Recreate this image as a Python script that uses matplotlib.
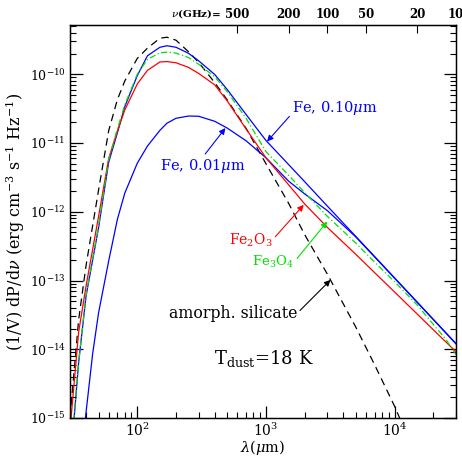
import matplotlib
matplotlib.use("Agg")
import matplotlib.pyplot as plt
from matplotlib.ticker import LogLocator, NullFormatter, FixedLocator, FixedFormatter

plt.rcParams['font.family'] = ['DejaVu Serif']
plt.rcParams['mathtext.fontset'] = 'dejavuserif'

# --- datos (lambda en micras, dP/dnu por volumen) ---
lam_sil = [30, 35, 40, 50, 60, 70, 80, 100, 120, 150, 170, 200, 250, 300, 400,
           500, 700, 1000, 1500, 2000, 3000, 5000, 7000, 10000, 12000]
sil = [1.0e-15, 2.67e-14, 1.66e-13, 2.06e-12, 1.52e-11, 4.27e-11, 8.0e-11, 1.70e-10,
       2.40e-10, 3.34e-10, 3.46e-10, 3.13e-10, 2.13e-10, 1.49e-10, 7.55e-11, 4.24e-11,
       1.64e-11, 5.0e-12, 1.33e-12, 4.65e-13, 1.24e-13, 2.09e-14, 5.93e-15, 1.48e-15, 6.7e-16]

lam_fe10 = [32, 35, 40, 50, 60, 70, 80, 100, 120, 150, 170, 200, 250, 300, 400, 500,
            700, 1000, 1500, 2000, 3000, 5000, 7000, 10000, 15000, 20000, 30000]
fe10 = [8.0e-16, 6.35e-15, 5.97e-14, 5.83e-13, 5.3e-12, 1.40e-11, 3.39e-11, 9.54e-11,
        1.86e-10, 2.47e-10, 2.60e-10, 2.47e-10, 2.02e-10, 1.57e-10, 9.93e-11, 6.0e-11,
        2.61e-11, 1.09e-11, 4.86e-12, 2.74e-12, 1.21e-12, 4.36e-13, 2.23e-13, 1.09e-13,
        4.85e-14, 2.72e-14, 1.21e-14]

lam_fe01 = [39, 45, 50, 60, 70, 80, 100, 120, 150, 170, 200, 250, 300, 400, 500, 700,
            1000, 1500, 2000, 3000, 5000, 7000, 10000, 15000, 20000, 30000]
fe01 = [8.0e-16, 8.6e-15, 3.37e-14, 1.94e-13, 7.71e-13, 1.87e-12, 5.08e-12, 9.04e-12,
        1.53e-11, 1.94e-11, 2.29e-11, 2.47e-11, 2.45e-11, 2.07e-11, 1.65e-11, 1.08e-11,
        6.1e-12, 2.79e-12, 1.82e-12, 1.04e-12, 4.3e-13, 2.2e-13, 1.08e-13, 4.8e-14,
        2.7e-14, 1.2e-14]

lam_fe2o3 = [30, 35, 40, 50, 60, 70, 80, 100, 120, 150, 170, 200, 250, 300, 400, 500,
             700, 1000, 1500, 2000, 3000, 5000, 7000, 10000, 15000, 20000, 30000]
fe2o3 = [6.7e-16, 1.76e-14, 8.34e-14, 8.51e-13, 6.0e-12, 1.48e-11, 3.03e-11, 7.22e-11,
         1.14e-10, 1.51e-10, 1.53e-10, 1.47e-10, 1.26e-10, 1.03e-10, 7.01e-11, 4.10e-11,
         1.61e-11, 6.1e-12, 2.47e-12, 1.30e-12, 5.93e-13, 2.40e-13, 1.30e-13, 6.8e-14,
         3.25e-14, 1.92e-14, 9.2e-15]

lam_fe3o4 = [32, 35, 40, 50, 60, 70, 80, 100, 120, 150, 170, 200, 250, 300, 400, 500,
             700, 1000, 1500, 2000, 3000, 5000, 7000, 10000, 15000, 20000, 25000, 30000]
fe3o4 = [9.0e-16, 6.5e-15, 6.2e-14, 6.2e-13, 5.8e-12, 1.6e-11, 3.6e-11, 1.0e-10,
         1.65e-10, 2.05e-10, 2.1e-10, 2.03e-10, 1.75e-10, 1.4e-10, 9.2e-11, 5.6e-11,
         2.3e-11, 7.5e-12, 3.4e-12, 1.9e-12, 8.6e-13, 3.5e-13, 1.85e-13, 9.6e-14,
         4.4e-14, 2.3e-14, 1.4e-14, 8.3e-15]

nu_ticks = [500, 200, 100, 50, 20, 10]   # GHz
c_um_ghz = 2.998e5                       # lambda(um) = c / nu(GHz)

fig = plt.figure(figsize=(4.62, 4.58), dpi=100)
ax = fig.add_axes([0.1515, 0.0873, 0.8355, 0.858])

ax.plot(lam_sil, sil, color='black', lw=0.9, dashes=(6, 4))
ax.plot(lam_fe10, fe10, color='#0000ff', lw=0.9)
ax.plot(lam_fe01, fe01, color='#0000ff', lw=0.9)
ax.plot(lam_fe2o3, fe2o3, color='#ff0000', lw=0.9)
ax.plot(lam_fe3o4, fe3o4, color='#00e000', lw=0.9, dashes=(5, 2, 1, 2))

ax.set_xscale('log')
ax.set_yscale('log')
ax.set_xlim(30, 3e4)
ax.set_ylim(1e-15, 5.2e-10)

ax.tick_params(which='both', direction='in', top=True, right=True)
ax.tick_params(axis='x', labelsize=10, pad=3)
ax.tick_params(axis='y', labelsize=9, pad=3)
ax.tick_params(which='major', length=9, width=0.9)
ax.tick_params(which='minor', length=4.5, width=0.8)
ax.xaxis.set_minor_formatter(NullFormatter())
ax.yaxis.set_minor_locator(LogLocator(base=10, subs=range(2, 10), numticks=20))
ax.yaxis.set_minor_formatter(NullFormatter())
for s in ax.spines.values():
    s.set_linewidth(1.0)

ax.set_xlabel(r'$\lambda$($\mu$m)', fontsize=10.5, labelpad=-1)
ax.set_ylabel(r'(1/V) dP/d$\nu$ (erg cm$^{-3}$ s$^{-1}$ Hz$^{-1}$)', fontsize=11.5, labelpad=0)
ax.yaxis.set_label_coords(-0.112, 0.5)

# eje superior en frecuencia
axt = ax.twiny()
axt.set_xscale('log')
axt.set_xlim(ax.get_xlim())
axt.xaxis.set_major_locator(FixedLocator([c_um_ghz / n for n in nu_ticks]))
axt.xaxis.set_major_formatter(FixedFormatter([str(n) for n in nu_ticks]))
axt.xaxis.set_minor_locator(FixedLocator([]))
axt.tick_params(which='major', direction='in', length=6, width=0.8, labelsize=8.5, pad=3)
for lb in axt.get_xticklabels():
    lb.set_fontweight('bold')
ax.text(0.262, 1.013, r'$\nu$(GHz)=', transform=ax.transAxes, ha='left', va='bottom',
        fontsize=7.5, fontweight='bold')

# etiquetas
def flecha(txt, xy, xytext, color, ha, relpos, fs=10.5):
    ax.annotate(txt, xy=xy, xytext=xytext, color=color, fontsize=fs, ha=ha, va='center',
                arrowprops=dict(arrowstyle='-|>', color=color, lw=0.8, mutation_scale=9,
                                shrinkA=0, shrinkB=0, relpos=relpos))

flecha(r'Fe, 0.10$\mu$m', (1020, 1.05e-11), (1600, 3.25e-11), '#0000ff', 'left', (0, 0.2))
flecha(r'Fe, 0.01$\mu$m', (484, 1.65e-11), (151, 4.66e-12), '#0000ff', 'left', (0.5, 1.0))
flecha(r'Fe$_2$O$_3$', (1967, 1.26e-12), (1124, 3.9e-13), '#ff0000', 'right', (1.0, 0.5), 10)
flecha(r'Fe$_3$O$_4$', (2994, 7.2e-13), (785, 1.87e-13), '#00e000', 'left', (1.0, 0.5), 9.5)
flecha('amorph. silicate', (3177, 1.02e-13), (1750, 3.34e-14), 'black', 'right', (1.0, 0.5), 11.3)

ax.text(393, 7.46e-15, r'T$_{\mathrm{dust}}$=18 K', fontsize=13, ha='left', va='center')

fig.savefig('out.png', dpi=100)
